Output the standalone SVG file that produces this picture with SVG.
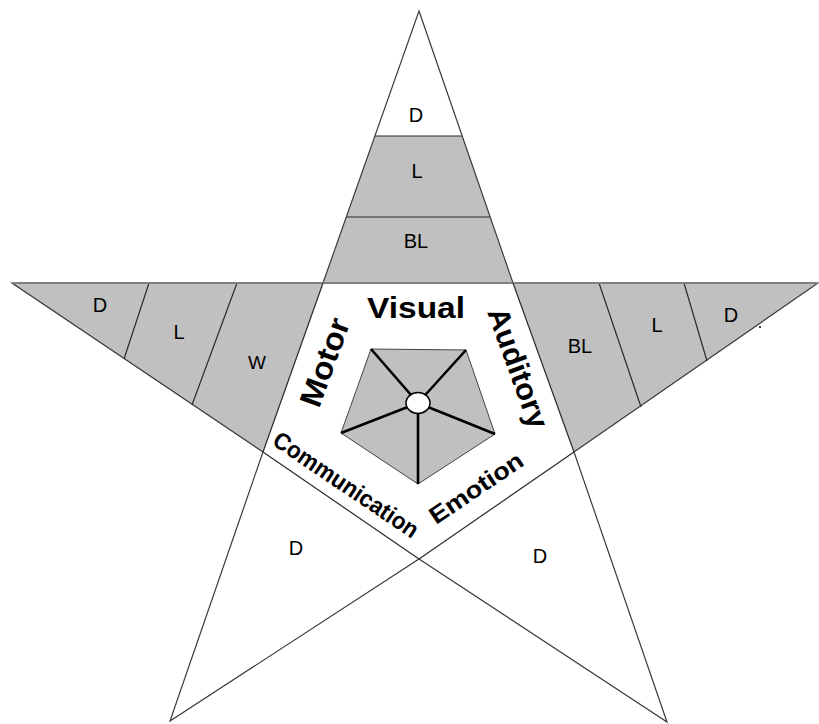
<svg xmlns="http://www.w3.org/2000/svg" width="819" height="724" viewBox="0 0 819 724">
<style>
.grey{fill:#c0c0c0;stroke:none}
.white{fill:#ffffff;stroke:none}
.edge{fill:none;stroke:#3a3a3a;stroke-width:1.2}
.div{stroke:#2a2a2a;stroke-width:1.2}
.lbl{font-family:"Liberation Sans",Arial,sans-serif;font-size:20px;fill:#000;text-anchor:middle}
.big{font-family:"Liberation Sans",Arial,sans-serif;font-weight:bold;font-size:30px;fill:#000}
.mid{font-family:"Liberation Sans",Arial,sans-serif;font-weight:bold;font-size:24px;fill:#000}
.spoke{stroke:#000;stroke-width:2.6}
</style>
<rect width="819" height="724" fill="#ffffff"/>
<g id="top-arm">
<polygon class="white" points="419,11 513,283 323,283"/>
<polygon class="grey" points="375,136 462,136 513,283 323,283"/>
<line class="div" x1="375" y1="136" x2="462" y2="136"/>
<line class="div" x1="346" y1="217" x2="490" y2="217"/>
<text class="lbl" x="416" y="122">D</text>
<text class="lbl" x="417" y="178">L</text>
<text class="lbl" x="416" y="248">BL</text>
</g>
<g id="left-arm">
<polygon class="grey" points="12,283 323,283 263,452"/>
<line class="div" x1="149" y1="283" x2="124" y2="359"/>
<line class="div" x1="237" y1="283" x2="192" y2="405"/>
<text class="lbl" x="100" y="312">D</text>
<text class="lbl" x="179" y="339">L</text>
<text class="lbl" x="257" y="369" style="font-size:19px">W</text>
</g>
<g id="right-arm">
<polygon class="grey" points="513,283 818,283 574,452"/>
<line class="div" x1="599" y1="283" x2="641" y2="407"/>
<line class="div" x1="684" y1="283" x2="707" y2="361"/>
<text class="lbl" x="580" y="353">BL</text>
<text class="lbl" x="657" y="332">L</text>
<text class="lbl" x="731" y="322">D</text>
<circle cx="760" cy="327" r="1" fill="#000"/>
</g>
<g id="lower-left-arm">
<text class="lbl" x="296" y="555">D</text>
</g>
<g id="lower-right-arm">
<text class="lbl" x="540" y="563">D</text>
</g>
<g id="connectors">
<polygon class="edge" points="419,11 513,283 818,283 574,452 667,722 419,559 170,721 263,452 12,283 323,283"/>
<line x1="12" y1="283" x2="818" y2="283" stroke="#808080" stroke-width="2.2"/>
<line class="div" x1="323" y1="283" x2="263" y2="452"/>
<line class="div" x1="513" y1="283" x2="574" y2="452"/>
<line class="div" x1="263" y1="452" x2="419" y2="559"/>
<line class="div" x1="574" y1="452" x2="419" y2="559"/>
</g>
<g id="center">
<polygon points="371,349 466,350 495,434 418,484 341,433" fill="#c0c0c0" stroke="#444" stroke-width="1"/>
<line class="spoke" x1="418" y1="403" x2="371" y2="349"/>
<line class="spoke" x1="418" y1="403" x2="466" y2="350"/>
<line class="spoke" x1="418" y1="403" x2="495" y2="434"/>
<line class="spoke" x1="418" y1="403" x2="418" y2="484"/>
<line class="spoke" x1="418" y1="403" x2="341" y2="433"/>
<ellipse cx="418" cy="403" rx="12" ry="10.5" fill="#fff" stroke="#000" stroke-width="1.5"/>
</g>
<g id="labels">
<text class="big" x="367" y="318" textLength="98" lengthAdjust="spacingAndGlyphs">Visual</text>
<text class="big" transform="translate(319,409) rotate(-70)" style="font-size:31px" textLength="92" lengthAdjust="spacingAndGlyphs">Motor</text>
<text class="big" transform="translate(487,312) rotate(70)" textLength="126" lengthAdjust="spacingAndGlyphs">Auditory</text>
<text class="mid" transform="translate(271,444) rotate(34)" textLength="170" lengthAdjust="spacingAndGlyphs">Communication</text>
<text class="mid" transform="translate(436,525) rotate(-34)" textLength="108" lengthAdjust="spacingAndGlyphs">Emotion</text>
</g>
</svg>
